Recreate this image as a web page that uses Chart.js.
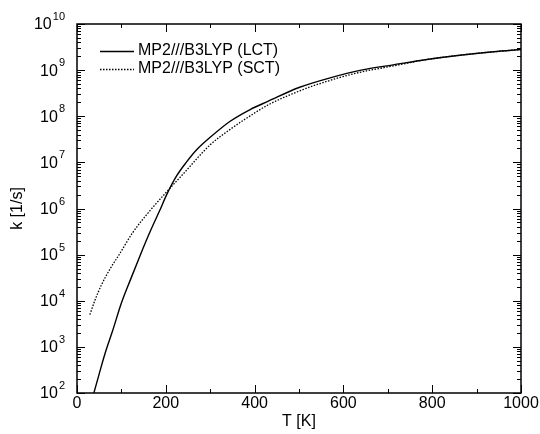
<!DOCTYPE html>
<html>
<head>
<meta charset="utf-8">
<script src="https://cdn.jsdelivr.net/npm/chart.js@4/dist/chart.umd.min.js"></script>
<style>
  html, body { margin: 0; padding: 0; background: #fff; }
  #wrap { width: 540px; height: 434px; }
</style>
</head>
<body>
<div id="wrap"><canvas id="myChart"></canvas></div>
<script>
// LCT curve (solid)
const tLct = [38, 50, 63, 80, 100, 120, 142, 165, 186, 202, 225, 246, 270, 300, 345, 390, 430, 500, 570, 640, 712, 788, 862, 938, 1000];
const kLct = [1.0e2, 2.6e2, 7.1e2, 2.2e3, 8.9e3, 2.8e4, 9.5e4, 3.2e5, 8.9e5, 2.0e6, 5.2e6, 1.0e7, 1.9e7, 3.5e7, 7.8e7, 1.4e8, 2.1e8, 4.2e8, 6.8e8, 1.0e9, 1.3e9, 1.7e9, 2.1e9, 2.5e9, 2.8e9];
// SCT curve (dotted)
const tSct = [29, 40, 55, 75, 95, 125, 164, 202, 239, 300, 345, 390, 430, 500, 570, 640, 712, 788, 862, 938, 1000];
const kSct = [5.0e3, 1.0e4, 2.2e4, 5.0e4, 1.0e5, 2.95e5, 8.9e5, 2.3e6, 5.6e6, 2.4e7, 5.2e7, 1.02e8, 1.75e8, 3.5e8, 6.0e8, 9.1e8, 1.23e9, 1.7e9, 2.1e9, 2.5e9, 2.8e9];

const labelLct = 'MP2///B3LYP (LCT)';
const labelSct = 'MP2///B3LYP (SCT)';
const xTickValues = [0, 200, 400, 600, 800, 1000];
const xMinorValues = [100, 300, 500, 700, 900];
const yExponents = [2, 3, 4, 5, 6, 7, 8, 9, 10];

const FONT = '"Liberation Sans", Arial, Helvetica, sans-serif';

function toPoints(xs, ys) {
  return xs.map((x, i) => ({ x: x, y: ys[i] }));
}

const frame = {
  id: 'frame',
  afterDraw(chart) {
    const ctx = chart.ctx;
    const a = chart.chartArea;
    const xs = chart.scales.x;
    const ys = chart.scales.y;
    ctx.save();
    ctx.strokeStyle = '#000';
    ctx.fillStyle = '#000';

    // ticks, inward on all four sides
    ctx.lineWidth = 1;
    ctx.beginPath();
    xTickValues.concat(xMinorValues).forEach(v => {
      const len = xTickValues.includes(v) ? 8 : 4;
      const px = Math.round(xs.getPixelForValue(v)) + 0.5;
      ctx.moveTo(px, a.bottom); ctx.lineTo(px, a.bottom - len);
      ctx.moveTo(px, a.top); ctx.lineTo(px, a.top + len);
    });
    yExponents.forEach(e => {
      for (let m = 1; m <= 9; m++) {
        if (e === 10 && m > 1) break;
        const py = Math.round(ys.getPixelForValue(m * Math.pow(10, e))) + 0.5;
        const len = m === 1 ? 8 : 4;
        ctx.moveTo(a.left, py); ctx.lineTo(a.left + len, py);
        ctx.moveTo(a.right, py); ctx.lineTo(a.right - len, py);
      }
    });
    ctx.stroke();

    // border
    ctx.lineWidth = 1.5;
    ctx.strokeRect(a.left, a.top, a.right - a.left, a.bottom - a.top);

    // x labels
    ctx.font = '16px ' + FONT;
    ctx.textAlign = 'center';
    ctx.textBaseline = 'middle';
    xTickValues.forEach(v => {
      ctx.fillText(String(v), xs.getPixelForValue(v), a.bottom + 11);
    });

    // y labels 10^n
    ctx.textAlign = 'left';
    yExponents.forEach(e => {
      const py = ys.getPixelForValue(Math.pow(10, e));
      ctx.font = '16px ' + FONT;
      const wb = ctx.measureText('10').width;
      ctx.font = '11px ' + FONT;
      const we = ctx.measureText(String(e)).width;
      const x0 = 64 - wb - we;
      ctx.font = '16px ' + FONT;
      ctx.fillText('10', x0, py + 1);
      ctx.font = '11px ' + FONT;
      ctx.fillText(String(e), x0 + wb + 1, py - 7);
    });

    // axis titles
    ctx.font = '16px ' + FONT;
    ctx.textAlign = 'center';
    ctx.fillText('T [K]', (a.left + a.right) / 2, 422);
    ctx.save();
    ctx.translate(18, (a.top + a.bottom) / 2);
    ctx.rotate(-Math.PI / 2);
    ctx.fillText('k [1/s]', 0, 0);
    ctx.restore();

    // legend
    chart.data.datasets.forEach((ds, i) => {
      const ly = 51 + i * 18;
      ctx.save();
      ctx.lineWidth = ds.borderWidth;
      ctx.setLineDash(ds.borderDash || []);
      ctx.beginPath();
      ctx.moveTo(100, ly + 0.5);
      ctx.lineTo(134, ly + 0.5);
      ctx.stroke();
      ctx.restore();
      ctx.font = '16px ' + FONT;
      ctx.textAlign = 'left';
      ctx.fillText(ds.label, 138, ly);
    });
    ctx.restore();
  }
};

new Chart(document.getElementById('myChart'), {
  type: 'line',
  data: {
    datasets: [
      {
        label: labelLct,
        data: toPoints(tLct, kLct),
        borderColor: '#000',
        borderWidth: 1.4,
        pointRadius: 0,
        cubicInterpolationMode: 'monotone',
        fill: false
      },
      {
        label: labelSct,
        data: toPoints(tSct, kSct),
        borderColor: '#000',
        borderWidth: 1.3,
        borderDash: [1.5, 1.5],
        pointRadius: 0,
        cubicInterpolationMode: 'monotone',
        fill: false
      }
    ]
  },
  options: {
    responsive: true,
    maintainAspectRatio: false,
    animation: false,
    layout: { padding: { left: 77, right: 19, top: 24, bottom: 41 } },
    plugins: { legend: { display: false }, tooltip: { enabled: false } },
    scales: {
      x: { type: 'linear', min: 0, max: 1000, display: false },
      y: { type: 'logarithmic', min: 1e2, max: 1e10, display: false }
    }
  },
  plugins: [frame]
});
</script>
</body>
</html>
